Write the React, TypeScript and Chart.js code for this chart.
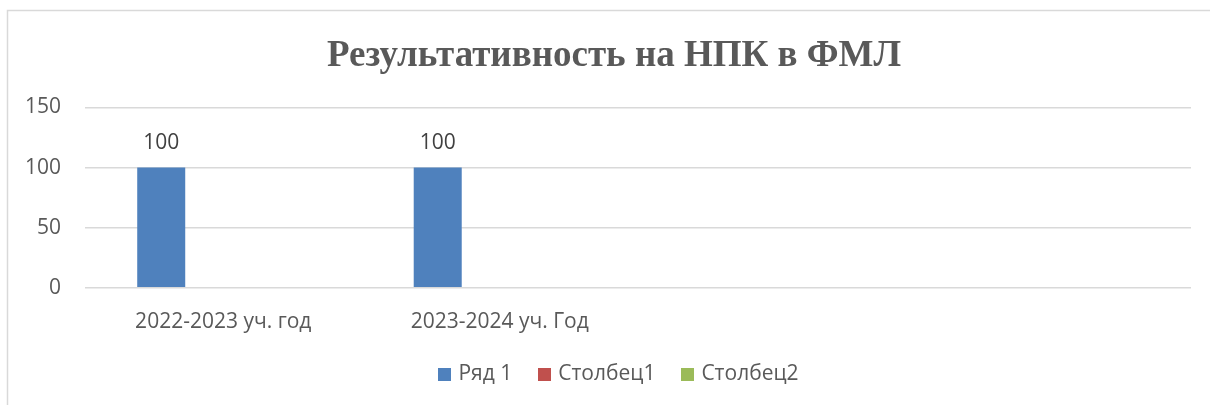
import React, { useEffect, useRef } from "react";
import { Chart, registerables } from "chart.js";

Chart.register(...registerables);

const categories = ["2022-2023 уч. год", "2023-2024 уч. Год", "", ""];
const seriesNames = ["Ряд 1", "Столбец1", "Столбец2"];
const series1 = [100, 100, null, null];
const series2 = [null, null, null, null];
const series3 = [null, null, null, null];
const seriesColors = ["#4f81bd", "#c0504d", "#9bbb59"];
const yTicks = [0, 50, 100, 150];
const titleText = "Результативность на НПК в ФМЛ";

const SANS = "'Open Sans', 'Liberation Sans', sans-serif";
const SERIF = "'Liberation Serif', 'Times New Roman', serif";
const TITLE_SIZE = 37;
const TITLE_PAD_TOP = 24;
const LEGEND_SIZE = 21;

const frameAndLabels = {
  id: "frameAndLabels",
  beforeDraw(chart: any) {
    const ctx = chart.ctx;
    ctx.save();
    ctx.fillStyle = "#ffffff";
    ctx.fillRect(0, 0, chart.width, chart.height);
    ctx.strokeStyle = "#d9d9d9";
    ctx.lineWidth = 1.5;
    ctx.beginPath();
    ctx.moveTo(7.5, chart.height);
    ctx.lineTo(7.5, 10.5);
    ctx.lineTo(chart.width, 10.5);
    ctx.stroke();
    ctx.restore();
  },
  afterDatasetsDraw(chart: any) {
    const ctx = chart.ctx;
    ctx.save();
    ctx.font = `21px ${SANS}`;
    ctx.fillStyle = "#404040";
    ctx.textAlign = "center";
    ctx.textBaseline = "middle";
    chart.data.datasets.forEach((ds: any, i: number) => {
      const meta = chart.getDatasetMeta(i);
      meta.data.forEach((bar: any, j: number) => {
        const v = ds.data[j];
        if (v === null || v === undefined) return;
        ctx.fillText(String(v), bar.x, bar.y - 25);
      });
    });
    ctx.restore();
  },
  afterDraw(chart: any) {
    const ctx = chart.ctx;
    const tb = chart.titleBlock;
    ctx.save();
    ctx.font = `bold ${TITLE_SIZE}px ${SERIF}`;
    ctx.fillStyle = "#595959";
    ctx.textAlign = "center";
    ctx.textBaseline = "middle";
    ctx.fillText(titleText, 614, tb.top + TITLE_PAD_TOP + (TITLE_SIZE * 1.2) / 2);

    // legend, drawn Excel-style (tight box-to-text gap), centred like the reference
    const lg = chart.legend;
    const hb = lg.legendHitBoxes[0];
    const cy = hb.top + hb.height / 2;
    const box = 13;
    const gapBoxText = 7;
    const gapItems = 26;
    ctx.font = `${LEGEND_SIZE}px ${SANS}`;
    const items = chart.data.datasets.map((ds: any) => ({
      text: ds.label,
      color: ds.backgroundColor,
      w: ctx.measureText(ds.label).width,
    }));
    const total =
      items.reduce((s: number, it: any) => s + box + gapBoxText + it.w, 0) +
      gapItems * (items.length - 1);
    let x = 618.5 - total / 2;
    ctx.textAlign = "left";
    ctx.textBaseline = "middle";
    items.forEach((it: any) => {
      ctx.fillStyle = it.color;
      ctx.fillRect(Math.round(x), Math.round(cy - box / 2), box, box);
      ctx.fillStyle = "#595959";
      ctx.fillText(it.text, x + box + gapBoxText, cy);
      x += box + gapBoxText + it.w + gapItems;
    });
    ctx.restore();
  },
};

export default function App() {
  const ref = useRef<HTMLCanvasElement | null>(null);
  useEffect(() => {
    if (!ref.current) return;
    const data = [series1, series2, series3];
    const chart = new Chart(ref.current, {
      type: "bar",
      data: {
        labels: categories,
        datasets: seriesNames.map((name, i) => ({
          label: name,
          data: data[i],
          backgroundColor: seriesColors[i],
          borderWidth: 0,
          categoryPercentage: 0.673,
          barPercentage: 0.774,
        })),
      },
      options: {
        animation: false,
        responsive: false,
        maintainAspectRatio: false,
        layout: { padding: { top: 10, left: 0, right: 19, bottom: 10 } },
        plugins: {
          title: {
            display: true,
            text: titleText,
            color: "rgba(0,0,0,0)",
            font: { family: SERIF, size: TITLE_SIZE, weight: "bold" },
            padding: { top: TITLE_PAD_TOP, bottom: 29 },
          },
          legend: {
            position: "bottom",
            labels: {
              color: "rgba(0,0,0,0)",
              font: { family: SANS, size: LEGEND_SIZE },
              boxWidth: 13,
              boxHeight: 13,
              padding: 15,
              generateLabels(chart: any) {
                const items = Chart.defaults.plugins.legend.labels.generateLabels(chart);
                return items.map((it: any) => ({
                  ...it,
                  fillStyle: "rgba(0,0,0,0)",
                  strokeStyle: "rgba(0,0,0,0)",
                  lineWidth: 0,
                }));
              },
            },
          },
          tooltip: { enabled: false },
        },
        scales: {
          x: {
            grid: { display: false },
            border: { display: false },
            ticks: {
              color: "#595959",
              font: { family: SANS, size: 21 },
              padding: 14,
              maxRotation: 0,
              autoSkip: false,
            },
          },
          y: {
            min: 0,
            max: 150,
            afterBuildTicks(scale: any) {
              scale.ticks = yTicks.map((v) => ({ value: v }));
            },
            afterFit(scale: any) {
              scale.width = 85;
            },
            grid: { color: "#d9d9d9", lineWidth: 1.5, drawTicks: false },
            border: { display: false },
            ticks: {
              color: "#595959",
              font: { family: SANS, size: 21 },
              padding: 24,
            },
          },
        },
      },
      plugins: [frameAndLabels],
    });
    return () => chart.destroy();
  }, []);
  return (
    <div style={{ position: "fixed", left: 0, top: 0, width: 1210, height: 405 }}>
      <canvas ref={ref} width={1210} height={405} style={{ width: 1210, height: 405 }} />
    </div>
  );
}
